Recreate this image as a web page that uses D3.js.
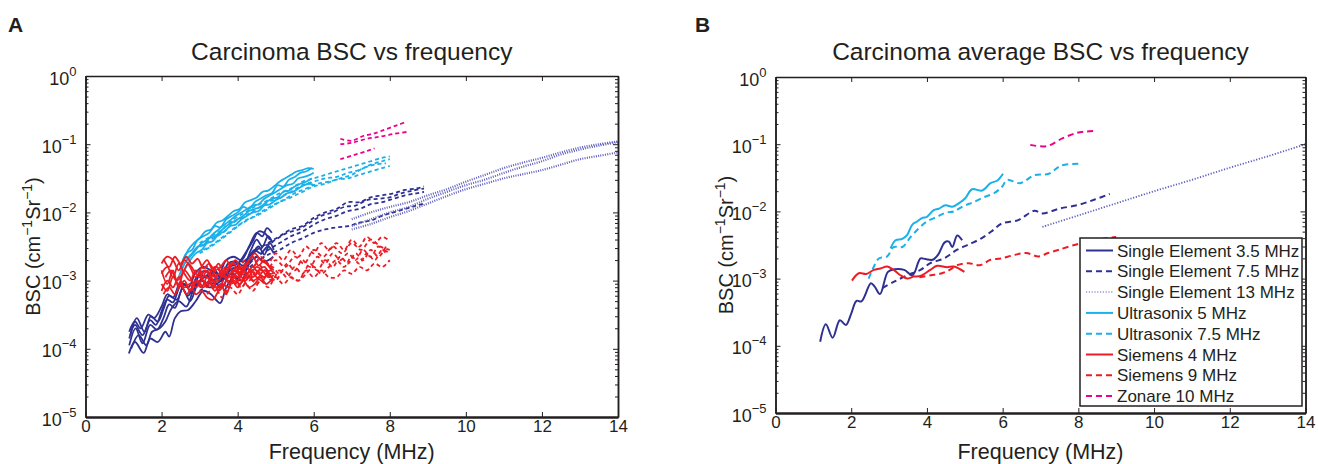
<!DOCTYPE html>
<html>
<head>
<meta charset="utf-8">
<script src="https://cdn.jsdelivr.net/npm/d3@7"></script>
<style>
  body { margin: 0; background: #fff; }
  svg { font-family: "Liberation Sans", Arial, sans-serif; }
</style>
</head>
<body>
<svg id="chart" width="1318" height="464"></svg>
<script>
// axis ticks
const freqTicks = [0, 2, 4, 6, 8, 10, 12, 14];
const bscDecades = [1e-5, 1e-4, 1e-3, 1e-2, 1e-1, 1];
const decadeExponents = ["\u22125", "\u22124", "\u22123", "\u22122", "\u22121", "0"];

// legend order
const seriesNames = [
    "Single Element 3.5 MHz",
    "Single Element 7.5 MHz",
    "Single Element 13 MHz",
    "Ultrasonix 5 MHz",
    "Ultrasonix 7.5 MHz",
    "Siemens 4 MHz",
    "Siemens 9 MHz",
    "Zonare 10 MHz"
];

// ---- Panel A: every sample, points are [frequency MHz, log10 BSC] ----
const seSolidA = [
    [[1.15,-3.75],[1.3,-3.6],[1.45,-3.7],[1.65,-3.5],[1.8,-3.55],[2.0,-3.38],[2.15,-3.2],[2.3,-3.25],[2.5,-3.02],[2.7,-3.1],[2.9,-2.88],[3.1,-2.8],[3.3,-2.85],[3.5,-2.9],[3.7,-2.7],[3.9,-2.65],[4.1,-2.7],[4.3,-2.5],[4.5,-2.3],[4.65,-2.35],[4.77,-2.23],[4.9,-2.3]],
    [[1.15,-3.85],[1.3,-3.65],[1.5,-3.8],[1.7,-3.58],[1.85,-3.65],[2.0,-3.45],[2.15,-3.28],[2.3,-3.32],[2.5,-3.08],[2.7,-3.22],[2.9,-2.97],[3.1,-2.86],[3.3,-2.9],[3.55,-2.98],[3.75,-2.75],[3.95,-2.72],[4.15,-2.78],[4.35,-2.55],[4.5,-2.4],[4.65,-2.5],[4.8,-2.35],[4.92,-2.45]],
    [[1.15,-3.95],[1.32,-3.7],[1.5,-3.92],[1.7,-3.65],[1.88,-3.72],[2.05,-3.55],[2.2,-3.35],[2.35,-3.4],[2.55,-3.12],[2.75,-3.3],[2.95,-3.05],[3.15,-2.95],[3.35,-3.0],[3.6,-3.1],[3.8,-2.85],[4.0,-2.8],[4.2,-2.85],[4.4,-2.6],[4.55,-2.5],[4.7,-2.62],[4.85,-2.45],[4.95,-2.55]],
    [[1.14,-4.07],[1.3,-3.9],[1.53,-4.06],[1.7,-3.85],[1.9,-3.9],[2.1,-3.75],[2.2,-3.82],[2.35,-3.55],[2.5,-3.45],[2.7,-3.43],[2.9,-3.3],[3.1,-3.15],[3.3,-3.2],[3.54,-3.33],[3.7,-3.1],[3.9,-2.95],[4.1,-3.0],[4.3,-2.75],[4.5,-2.65],[4.7,-2.72],[4.94,-2.65]],
    [[1.18,-3.8],[1.35,-3.55],[1.55,-3.75],[1.72,-3.52],[1.9,-3.6],[2.05,-3.42],[2.2,-3.22],[2.4,-3.28],[2.6,-3.05],[2.8,-3.18],[3.0,-2.92],[3.2,-2.95],[3.4,-2.85],[3.6,-3.0],[3.8,-2.8],[4.0,-2.75],[4.2,-2.6],[4.4,-2.42],[4.55,-2.28],[4.7,-2.3],[4.85,-2.4]],
    [[1.2,-4.0],[1.4,-3.8],[1.6,-3.95],[1.75,-3.75],[1.95,-3.7],[2.1,-3.6],[2.25,-3.42],[2.45,-3.3],[2.65,-3.38],[2.85,-3.12],[3.05,-3.0],[3.25,-3.1],[3.45,-3.05],[3.65,-2.95],[3.85,-2.9],[4.05,-2.95],[4.25,-2.7],[4.45,-2.55],[4.6,-2.6],[4.8,-2.5],[4.95,-2.6]]
];
const seDashA = [
    [[3.0,-3.0],[3.3,-2.9],[3.6,-2.95],[3.9,-2.75],[4.2,-2.7],[4.5,-2.55],[4.8,-2.45],[5.1,-2.35],[5.4,-2.25],[5.7,-2.2],[6.0,-2.08],[6.3,-2.0],[6.6,-1.95],[6.9,-1.85],[7.2,-1.85],[7.5,-1.78],[7.8,-1.75],[8.1,-1.72],[8.4,-1.67],[8.7,-1.65],[8.9,-1.62]],
    [[3.0,-3.1],[3.3,-3.0],[3.6,-2.95],[3.9,-2.85],[4.2,-2.8],[4.5,-2.65],[4.8,-2.55],[5.1,-2.45],[5.4,-2.35],[5.7,-2.28],[6.0,-2.18],[6.3,-2.1],[6.6,-2.05],[6.9,-1.98],[7.2,-1.95],[7.5,-1.88],[7.8,-1.85],[8.1,-1.8],[8.4,-1.75],[8.7,-1.72],[8.9,-1.7]],
    [[3.0,-3.15],[3.3,-3.05],[3.6,-3.0],[3.9,-2.9],[4.2,-2.85],[4.5,-2.72],[4.8,-2.62],[5.1,-2.55],[5.4,-2.45],[5.7,-2.38],[6.0,-2.3],[6.3,-2.25],[6.6,-2.22],[6.9,-2.2],[7.2,-2.15],[7.5,-2.12],[7.8,-2.05],[8.1,-2.0],[8.4,-1.95],[8.7,-1.9],[8.9,-1.87]],
    [[3.2,-3.05],[3.5,-2.95],[3.8,-2.85],[4.1,-2.75],[4.4,-2.6],[4.7,-2.5],[5.0,-2.4],[5.3,-2.3],[5.6,-2.25],[5.9,-2.15],[6.2,-2.05],[6.5,-2.0],[6.8,-1.92],[7.1,-1.9],[7.4,-1.82],[7.7,-1.8],[8.0,-1.78],[8.3,-1.72],[8.6,-1.68],[8.9,-1.65]]
];
const seDotA = [
    [[7.0,-2.1],[7.5,-2.0],[8.0,-1.92],[8.5,-1.85],[9.0,-1.75],[9.5,-1.66],[10.0,-1.55],[10.5,-1.45],[11.0,-1.35],[11.5,-1.27],[12.0,-1.2],[12.5,-1.12],[13.0,-1.05],[13.5,-1.0],[14.0,-0.96]],
    [[7.0,-2.2],[7.5,-2.1],[8.0,-2.0],[8.5,-1.92],[9.0,-1.8],[9.5,-1.7],[10.0,-1.6],[10.5,-1.52],[11.0,-1.42],[11.5,-1.33],[12.0,-1.25],[12.5,-1.15],[13.0,-1.08],[13.5,-1.02],[14.0,-0.97]],
    [[7.0,-2.25],[7.5,-2.17],[8.0,-2.07],[8.5,-1.98],[9.0,-1.87],[9.5,-1.76],[10.0,-1.66],[10.5,-1.58],[11.0,-1.5],[11.5,-1.44],[12.0,-1.38],[12.5,-1.3],[13.0,-1.22],[13.5,-1.17],[14.0,-1.12]]
];
const usSolidA = [
    [[2.5,-2.8],[2.65,-2.6],[2.8,-2.55],[2.95,-2.4],[3.1,-2.35],[3.25,-2.3],[3.4,-2.2],[3.55,-2.22],[3.7,-2.1],[3.85,-2.05],[4.0,-2.0],[4.15,-1.92],[4.3,-1.95],[4.45,-1.85],[4.6,-1.8],[4.75,-1.75],[4.9,-1.72],[5.05,-1.6],[5.2,-1.62],[5.35,-1.52],[5.5,-1.48],[5.65,-1.42],[5.8,-1.4],[5.95,-1.35]],
    [[2.45,-2.95],[2.6,-2.75],[2.75,-2.65],[2.9,-2.55],[3.05,-2.45],[3.2,-2.4],[3.35,-2.32],[3.5,-2.25],[3.65,-2.18],[3.8,-2.12],[3.95,-2.05],[4.1,-2.0],[4.25,-1.95],[4.4,-1.9],[4.55,-1.88],[4.7,-1.8],[4.85,-1.75],[5.0,-1.7],[5.15,-1.65],[5.3,-1.6],[5.45,-1.58],[5.6,-1.5],[5.75,-1.48],[5.9,-1.45],[6.0,-1.42]],
    [[2.5,-2.9],[2.65,-2.7],[2.8,-2.6],[2.95,-2.5],[3.1,-2.48],[3.25,-2.38],[3.4,-2.35],[3.55,-2.28],[3.7,-2.2],[3.85,-2.15],[4.0,-2.1],[4.15,-2.05],[4.3,-1.98],[4.45,-1.95],[4.6,-1.92],[4.75,-1.85],[4.9,-1.8],[5.05,-1.78],[5.2,-1.7],[5.35,-1.68],[5.5,-1.62],[5.65,-1.58],[5.8,-1.55],[5.95,-1.5]],
    [[2.55,-2.75],[2.7,-2.55],[2.85,-2.45],[3.0,-2.38],[3.15,-2.28],[3.3,-2.25],[3.45,-2.15],[3.6,-2.12],[3.75,-2.05],[3.9,-1.98],[4.05,-1.95],[4.2,-1.85],[4.35,-1.82],[4.5,-1.78],[4.65,-1.7],[4.8,-1.68],[4.95,-1.62],[5.1,-1.55],[5.25,-1.5],[5.4,-1.45],[5.55,-1.4],[5.7,-1.38],[5.85,-1.35],[6.0,-1.36]],
    [[2.6,-2.85],[2.75,-2.7],[2.9,-2.6],[3.05,-2.55],[3.2,-2.45],[3.35,-2.42],[3.5,-2.32],[3.65,-2.28],[3.8,-2.2],[3.95,-2.18],[4.1,-2.1],[4.25,-2.05],[4.4,-2.0],[4.55,-1.98],[4.7,-1.9],[4.85,-1.88],[5.0,-1.82],[5.15,-1.78],[5.3,-1.72],[5.45,-1.7],[5.6,-1.65],[5.75,-1.6],[5.9,-1.58],[6.0,-1.6]]
];
const usDashA = [
    [[3.0,-2.5],[3.3,-2.4],[3.6,-2.3],[3.9,-2.15],[4.2,-2.05],[4.5,-1.95],[4.8,-1.85],[5.1,-1.78],[5.4,-1.7],[5.7,-1.6],[6.0,-1.55],[6.3,-1.5],[6.6,-1.48],[6.9,-1.42],[7.2,-1.38],[7.5,-1.3],[7.8,-1.25],[8.0,-1.22]],
    [[3.0,-2.6],[3.3,-2.5],[3.6,-2.38],[3.9,-2.25],[4.2,-2.12],[4.5,-2.05],[4.8,-1.95],[5.1,-1.85],[5.4,-1.78],[5.7,-1.7],[6.0,-1.62],[6.3,-1.58],[6.6,-1.52],[6.9,-1.5],[7.2,-1.45],[7.5,-1.4],[7.8,-1.35],[8.0,-1.32]],
    [[3.1,-2.55],[3.4,-2.45],[3.7,-2.32],[4.0,-2.2],[4.3,-2.1],[4.6,-2.0],[4.9,-1.9],[5.2,-1.82],[5.5,-1.72],[5.8,-1.65],[6.1,-1.58],[6.4,-1.55],[6.7,-1.5],[7.0,-1.45],[7.3,-1.35],[7.6,-1.3],[7.9,-1.28]],
    [[3.0,-2.45],[3.3,-2.35],[3.6,-2.25],[3.9,-2.1],[4.2,-2.0],[4.5,-1.9],[4.8,-1.82],[5.1,-1.72],[5.4,-1.65],[5.7,-1.55],[6.0,-1.5],[6.3,-1.45],[6.6,-1.4],[6.9,-1.35],[7.2,-1.3],[7.5,-1.25],[7.8,-1.2],[8.0,-1.18]]
];
const siSolidA = [
    [[2.0,-2.75],[2.15,-2.65],[2.3,-2.7],[2.45,-2.85],[2.6,-2.7],[2.75,-2.8],[2.9,-2.95],[3.05,-2.8],[3.2,-2.7],[3.35,-2.85],[3.5,-2.75],[3.65,-2.9],[3.8,-2.8],[3.95,-2.7],[4.1,-2.85],[4.25,-2.75],[4.4,-2.65],[4.55,-2.78],[4.7,-2.7],[4.85,-2.8],[4.95,-2.85]],
    [[2.0,-2.9],[2.15,-2.8],[2.3,-2.95],[2.45,-2.75],[2.6,-2.9],[2.75,-3.0],[2.9,-2.85],[3.05,-2.95],[3.2,-3.1],[3.35,-2.9],[3.5,-3.0],[3.65,-2.85],[3.8,-2.95],[3.95,-3.05],[4.1,-2.9],[4.25,-2.8],[4.4,-2.95],[4.55,-2.85],[4.7,-2.8],[4.85,-2.9],[4.95,-2.88]],
    [[2.0,-3.05],[2.15,-3.15],[2.3,-2.95],[2.45,-3.05],[2.6,-2.85],[2.75,-2.95],[2.9,-3.1],[3.05,-3.0],[3.2,-2.85],[3.35,-3.0],[3.5,-3.15],[3.65,-3.05],[3.8,-2.9],[3.95,-2.85],[4.1,-3.0],[4.25,-2.9],[4.4,-2.8],[4.55,-2.9],[4.7,-2.95],[4.85,-2.85],[4.98,-2.9]],
    [[2.0,-3.15],[2.15,-3.0],[2.3,-3.1],[2.45,-2.95],[2.6,-3.1],[2.75,-3.05],[2.9,-3.2],[3.05,-3.15],[3.2,-3.25],[3.35,-3.28],[3.45,-3.2],[3.6,-3.05],[3.75,-3.1],[3.9,-2.95],[4.05,-3.05],[4.2,-2.95],[4.35,-2.85],[4.5,-2.95],[4.65,-3.0],[4.8,-2.9],[4.95,-3.0]],
    [[2.05,-2.68],[2.2,-2.8],[2.35,-2.65],[2.5,-2.75],[2.65,-2.65],[2.8,-2.75],[2.95,-2.68],[3.1,-2.82],[3.25,-2.75],[3.4,-2.85],[3.55,-2.8],[3.7,-2.7],[3.85,-2.85],[4.0,-2.95],[4.15,-2.8],[4.3,-2.7],[4.45,-2.6],[4.6,-2.7],[4.75,-2.75],[4.9,-2.85]],
    [[2.0,-2.85],[2.15,-3.05],[2.3,-2.85],[2.45,-3.1],[2.6,-3.0],[2.75,-3.15],[2.9,-3.0],[3.05,-3.1],[3.2,-2.95],[3.35,-3.1],[3.5,-2.9],[3.65,-2.95],[3.8,-3.05],[3.95,-2.9],[4.1,-2.8],[4.25,-2.9],[4.4,-3.0],[4.55,-2.95],[4.7,-2.85],[4.85,-2.95]],
    [[2.1,-2.95],[2.25,-2.85],[2.4,-3.0],[2.55,-2.9],[2.7,-2.75],[2.85,-2.85],[3.0,-2.95],[3.15,-2.85],[3.3,-2.95],[3.45,-2.8],[3.6,-2.9],[3.75,-2.8],[3.9,-2.75],[4.05,-2.9],[4.2,-3.0],[4.35,-2.9],[4.5,-2.8],[4.65,-2.85],[4.8,-2.95],[4.95,-2.92]],
    [[2.05,-3.2],[2.2,-3.1],[2.35,-3.2],[2.5,-3.05],[2.65,-3.2],[2.8,-3.1],[2.95,-3.0],[3.1,-3.1],[3.25,-3.0],[3.4,-3.15],[3.55,-3.05],[3.7,-3.2],[3.85,-3.0],[4.0,-3.1],[4.15,-3.0],[4.3,-3.1],[4.45,-3.05],[4.6,-2.95],[4.75,-3.05],[4.9,-2.98]]
];
const siDashA = [
    [[3.0,-2.9],[3.2,-2.8],[3.4,-2.95],[3.6,-2.85],[3.8,-2.75],[4.0,-2.85],[4.2,-2.7],[4.4,-2.8],[4.6,-2.65],[4.8,-2.75],[5.0,-2.6],[5.2,-2.7],[5.4,-2.55],[5.6,-2.65],[5.8,-2.5],[6.0,-2.6],[6.2,-2.45],[6.4,-2.55],[6.6,-2.45],[6.8,-2.55],[7.0,-2.4],[7.2,-2.5],[7.4,-2.36],[7.6,-2.45],[7.8,-2.36],[8.0,-2.42]],
    [[3.1,-3.05],[3.3,-2.95],[3.5,-3.1],[3.7,-2.95],[3.9,-3.05],[4.1,-2.9],[4.3,-3.0],[4.5,-2.85],[4.7,-2.95],[4.9,-2.8],[5.1,-2.9],[5.3,-2.75],[5.5,-2.85],[5.7,-2.7],[5.9,-2.8],[6.1,-2.65],[6.3,-2.75],[6.5,-2.6],[6.7,-2.7],[6.9,-2.6],[7.1,-2.7],[7.3,-2.55],[7.5,-2.65],[7.7,-2.5],[7.9,-2.6]],
    [[3.2,-3.2],[3.4,-3.1],[3.6,-3.25],[3.8,-3.1],[4.0,-3.2],[4.2,-3.05],[4.4,-3.15],[4.6,-3.0],[4.8,-3.1],[5.0,-2.95],[5.2,-3.05],[5.4,-2.95],[5.6,-3.0],[5.8,-2.85],[6.0,-2.95],[6.2,-2.85],[6.4,-2.95],[6.6,-2.95],[6.8,-2.85],[7.0,-2.9],[7.2,-2.8],[7.4,-2.85],[7.6,-2.75],[7.8,-2.8],[8.0,-2.7]],
    [[3.0,-2.95],[3.25,-3.05],[3.5,-2.9],[3.75,-3.0],[4.0,-2.85],[4.25,-2.95],[4.5,-2.75],[4.75,-2.85],[5.0,-2.7],[5.25,-2.8],[5.5,-2.65],[5.75,-2.75],[6.0,-2.55],[6.25,-2.65],[6.5,-2.5],[6.75,-2.6],[7.0,-2.45],[7.25,-2.55],[7.5,-2.4],[7.75,-2.5],[8.0,-2.55]],
    [[3.3,-3.1],[3.5,-3.0],[3.7,-3.15],[3.9,-3.0],[4.1,-3.1],[4.3,-2.95],[4.5,-3.05],[4.7,-2.9],[4.9,-3.0],[5.1,-2.85],[5.3,-2.95],[5.5,-2.8],[5.7,-2.9],[5.9,-2.75],[6.1,-2.85],[6.3,-2.7],[6.5,-2.8],[6.7,-2.65],[6.9,-2.75],[7.1,-2.6],[7.3,-2.7],[7.5,-2.55],[7.7,-2.65],[7.9,-2.5]],
    [[3.0,-2.85],[3.2,-2.95],[3.4,-2.8],[3.6,-2.9],[3.8,-2.95],[4.0,-2.8],[4.2,-2.9],[4.4,-2.95],[4.6,-2.85],[4.8,-2.9],[5.0,-3.0],[5.2,-2.85],[5.4,-2.95],[5.6,-3.0],[5.8,-2.9],[6.0,-2.8],[6.2,-2.9],[6.4,-2.8],[6.6,-2.7],[6.8,-2.8],[7.0,-2.65],[7.2,-2.75],[7.4,-2.6],[7.6,-2.7],[7.8,-2.55],[8.0,-2.6]]
];
const zoDashA = [
    [[6.7,-0.92],[7.0,-0.95],[7.3,-0.88],[7.6,-0.84],[7.9,-0.78],[8.2,-0.72],[8.45,-0.67]],
    [[6.7,-1.0],[7.0,-0.98],[7.4,-0.92],[7.75,-0.89],[8.1,-0.85],[8.45,-0.82]],
    [[6.7,-1.22],[7.05,-1.16],[7.4,-1.1],[7.6,-1.06]]
];

// ---- Panel B: averages, points are [frequency MHz, log10 BSC] ----
const seSolidB = [[1.18,-3.94],[1.33,-3.68],[1.51,-3.88],[1.7,-3.62],[1.86,-3.69],[2.0,-3.52],[2.14,-3.33],[2.27,-3.34],[2.52,-3.07],[2.62,-3.12],[2.76,-3.23],[2.97,-2.9],[3.15,-2.86],[3.4,-2.87],[3.62,-2.95],[3.83,-2.7],[3.96,-2.71],[4.15,-2.72],[4.3,-2.64],[4.47,-2.46],[4.58,-2.45],[4.67,-2.53],[4.8,-2.36],[4.93,-2.43]];
const seDashB = [[2.82,-3.14],[3.12,-3.05],[3.48,-2.95],[3.83,-2.87],[4.09,-2.77],[4.45,-2.7],[4.8,-2.57],[5.15,-2.48],[5.44,-2.4],[5.7,-2.3],[5.98,-2.18],[6.41,-2.13],[6.84,-1.99],[7.05,-2.03],[7.49,-1.96],[8.02,-1.9],[8.45,-1.82],[8.83,-1.74]];
const seDotB = [[7.05,-2.23],[8.0,-2.06],[9.0,-1.88],[10.0,-1.7],[11.0,-1.53],[12.0,-1.35],[13.0,-1.18],[14.0,-1.0]];
const usSolidB = [[3.04,-2.55],[3.17,-2.43],[3.35,-2.41],[3.48,-2.35],[3.61,-2.2],[3.74,-2.15],[3.87,-2.1],[4.0,-2.08],[4.18,-1.98],[4.31,-1.96],[4.49,-1.91],[4.67,-1.93],[4.84,-1.88],[5.02,-1.8],[5.19,-1.67],[5.46,-1.69],[5.68,-1.58],[5.86,-1.54],[6.01,-1.44]];
const usDashB = [[2.46,-3.0],[2.6,-2.82],[2.73,-2.7],[2.95,-2.67],[3.12,-2.53],[3.35,-2.53],[3.57,-2.38],[3.79,-2.25],[4.0,-2.15],[4.27,-2.08],[4.49,-2.02],[4.71,-2.0],[4.97,-1.92],[5.24,-1.86],[5.5,-1.79],[5.77,-1.73],[5.99,-1.63],[6.12,-1.53],[6.46,-1.58],[6.84,-1.46],[7.22,-1.44],[7.54,-1.32],[8.02,-1.29]];
const siSolidB = [[2.02,-3.03],[2.2,-2.92],[2.4,-2.93],[2.6,-2.87],[2.77,-2.85],[2.95,-2.82],[3.12,-2.87],[3.3,-2.95],[3.48,-3.0],[3.65,-2.97],[3.83,-2.96],[4.09,-2.87],[4.27,-2.81],[4.53,-2.83],[4.71,-2.82],[4.99,-2.9]];
const siDashB = [[3.8,-2.98],[4.1,-2.95],[4.4,-2.92],[4.6,-2.87],[4.8,-2.8],[5.1,-2.77],[5.4,-2.8],[5.68,-2.72],[5.95,-2.7],[6.3,-2.65],[6.62,-2.62],[6.95,-2.67],[7.2,-2.62],[7.49,-2.57],[8.02,-2.48],[8.5,-2.42],[9.0,-2.38]];
const zoDashB = [[6.73,-1.01],[7.16,-1.03],[7.59,-0.91],[7.97,-0.83],[8.23,-0.81],[8.5,-0.8]];

// line look for each series
const seriesStyle = {
    "Single Element 3.5 MHz": { color: "#2e3192", dash: null },
    "Single Element 7.5 MHz": { color: "#2e3192", dash: "dash" },
    "Single Element 13 MHz": { color: "#5f5fbf", dash: "dot" },
    "Ultrasonix 5 MHz": { color: "#1bb0e9", dash: null },
    "Ultrasonix 7.5 MHz": { color: "#1bb0e9", dash: "dash" },
    "Siemens 4 MHz": { color: "#ed1c24", dash: null },
    "Siemens 9 MHz": { color: "#ed1c24", dash: "dash" },
    "Zonare 10 MHz": { color: "#ec008c", dash: "dash" }
};

const panelA = [
    { name: seriesNames[0], curves: seSolidA },
    { name: seriesNames[1], curves: seDashA },
    { name: seriesNames[2], curves: seDotA },
    { name: seriesNames[6], curves: siDashA },
    { name: seriesNames[4], curves: usDashA },
    { name: seriesNames[3], curves: usSolidA },
    { name: seriesNames[5], curves: siSolidA },
    { name: seriesNames[7], curves: zoDashA }
];
const panelB = [
    { name: seriesNames[0], curves: [seSolidB] },
    { name: seriesNames[1], curves: [seDashB] },
    { name: seriesNames[2], curves: [seDotB] },
    { name: seriesNames[3], curves: [usSolidB] },
    { name: seriesNames[4], curves: [usDashB] },
    { name: seriesNames[5], curves: [siSolidB] },
    { name: seriesNames[6], curves: [siDashB] },
    { name: seriesNames[7], curves: [zoDashB] }
];

const svg = d3.select("#chart");

function dashFor(style, big) {
    if (style.dash === "dash") return big ? "6,4" : "4,3";
    if (style.dash === "dot") return big ? "1.2,1.6" : "1,1.3";
    return null;
}

function drawPanel(opts) {
    const { left, right, top, bottom } = opts.box;
    const width = right - left;
    const height = bottom - top;

    const x = d3.scaleLinear().domain([0, 14]).range([0, width]);
    const y = d3.scaleLog().domain([1e-5, 1]).range([height, 0]);

    const g = svg.append("g").attr("transform", `translate(${left}, ${top})`);

    svg.append("clipPath").attr("id", "clip" + opts.letter)
        .append("rect").attr("width", width).attr("height", height);

    // panel letter + title
    svg.append("text")
        .attr("x", opts.letterX).attr("y", 32)
        .attr("font-size", 21).attr("font-weight", "bold")
        .attr("fill", "#231f20")
        .text(opts.letter);

    svg.append("text")
        .attr("x", left + width / 2).attr("y", 60)
        .attr("text-anchor", "middle")
        .attr("font-size", 24.5).attr("fill", "#231f20")
        .text(opts.title);

    // the curves
    const line = d3.line()
        .x(d => x(d[0]))
        .y(d => y(10 ** d[1]))
        .curve(d3.curveCatmullRom.alpha(0.5));

    const plot = g.append("g").attr("clip-path", `url(#clip${opts.letter})`);
    opts.groups.forEach(grp => {
        const st = seriesStyle[grp.name];
        plot.append("g")
            .selectAll("path")
            .data(grp.curves)
            .enter()
            .append("path")
            .attr("d", line)
            .attr("fill", "none")
            .attr("stroke", st.color)
            .attr("stroke-width", st.dash === "dot" ? opts.dotWidth : opts.lineWidth)
            .attr("stroke-dasharray", dashFor(st, opts.bigDash))
            .attr("stroke-linejoin", "round");
    });

    // axes: ticks point inwards on all four sides
    const minor = y.ticks().filter(v => bscDecades.indexOf(v) < 0);

    const bottomAxis = g.append("g")
        .attr("transform", `translate(0, ${height})`)
        .call(d3.axisBottom(x).tickValues(freqTicks).tickSizeInner(-5).tickSizeOuter(0).tickPadding(3));
    g.append("g")
        .call(d3.axisTop(x).tickValues(freqTicks).tickSizeInner(-5).tickSizeOuter(0).tickFormat(""));

    const leftAxis = g.append("g")
        .call(d3.axisLeft(y).tickValues(bscDecades).tickSizeInner(-5).tickSizeOuter(0).tickPadding(9));
    g.append("g")
        .call(d3.axisLeft(y).tickValues(minor).tickSizeInner(-3).tickSizeOuter(0).tickFormat(""));
    g.append("g")
        .attr("transform", `translate(${width}, 0)`)
        .call(d3.axisRight(y).tickValues(bscDecades).tickSizeInner(-5).tickSizeOuter(0).tickFormat(""));
    g.append("g")
        .attr("transform", `translate(${width}, 0)`)
        .call(d3.axisRight(y).tickValues(minor).tickSizeInner(-3).tickSizeOuter(0).tickFormat(""));

    g.selectAll(".domain").attr("stroke", "#231f20").attr("stroke-width", 1.5);
    g.selectAll(".tick line").attr("stroke", "#231f20").attr("stroke-width", 1);
    bottomAxis.select(".domain").attr("stroke-width", 2.6);

    bottomAxis.selectAll(".tick text")
        .attr("font-size", 17)
        .attr("fill", "#231f20")
        .attr("font-family", "Liberation Sans, Arial, sans-serif");

    // 10^n labels with a raised exponent
    leftAxis.selectAll(".tick text").each(function (d, i) {
        const t = d3.select(this)
            .attr("font-size", 18)
            .attr("fill", "#231f20")
            .attr("font-family", "Liberation Sans, Arial, sans-serif")
            .attr("dy", "0.45em")
            .text(null);
        t.append("tspan").text("10");
        t.append("tspan").attr("dy", -9).attr("font-size", 13).text(decadeExponents[i]);
    });

    // axis titles
    svg.append("text")
        .attr("x", left + width / 2).attr("y", 458.5)
        .attr("text-anchor", "middle")
        .attr("font-size", 21.5).attr("fill", "#231f20")
        .text("Frequency (MHz)");

    const yl = svg.append("text")
        .attr("transform", `translate(${opts.ylabelX}, ${top + height / 2}) rotate(-90)`)
        .attr("text-anchor", "middle")
        .attr("font-size", 20).attr("fill", "#231f20");
    yl.append("tspan").text("BSC (cm");
    yl.append("tspan").attr("dy", -8).attr("font-size", 14).text("\u22121");
    yl.append("tspan").attr("dy", 8).text("Sr");
    yl.append("tspan").attr("dy", -8).attr("font-size", 14).text("\u22121");
    yl.append("tspan").attr("dy", 8).text(")");

    return { x, y, g };
}

drawPanel({
    letter: "A", letterX: 8,
    title: "Carcinoma BSC vs frequency",
    box: { left: 85.5, right: 618, top: 76, bottom: 417 },
    groups: panelA, lineWidth: 1.8, dotWidth: 2.2, bigDash: false, ylabelX: 40
});

drawPanel({
    letter: "B", letterX: 695,
    title: "Carcinoma average BSC vs frequency",
    box: { left: 775.5, right: 1305.5, top: 77, bottom: 413 },
    groups: panelB, lineWidth: 2, dotWidth: 1.8, bigDash: true, ylabelX: 733
});

// legend for panel B
const legend = svg.append("g").attr("transform", "translate(1080, 238)");
legend.append("rect")
    .attr("width", 222).attr("height", 168)
    .attr("fill", "#fff")
    .attr("stroke", "#231f20").attr("stroke-width", 1.5);

const rows = legend.selectAll(".row")
    .data(seriesNames)
    .enter()
    .append("g")
    .attr("class", "row")
    .attr("transform", (d, i) => `translate(0, ${12.5 + i * 20.8})`);

rows.append("line")
    .attr("x1", 6).attr("x2", 33)
    .attr("stroke", d => seriesStyle[d].color)
    .attr("stroke-opacity", d => seriesStyle[d].dash === "dot" ? 0.5 : 1)
    .attr("stroke-width", 2)
    .attr("stroke-dasharray", d => dashFor(seriesStyle[d], true));

rows.append("text")
    .attr("x", 37).attr("dy", "0.36em")
    .attr("font-size", 17).attr("fill", "#231f20")
    .text(d => d);
</script>
</body>
</html>
